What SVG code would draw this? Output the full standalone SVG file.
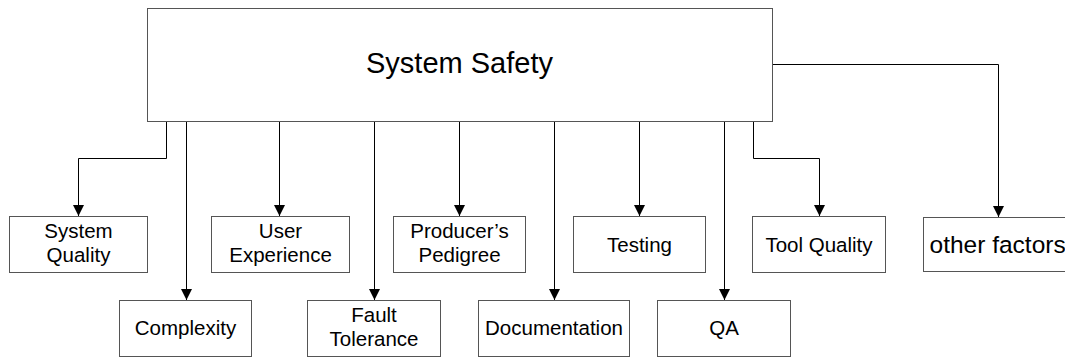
<svg xmlns="http://www.w3.org/2000/svg" width="1065" height="358" viewBox="0 0 1065 358">
<style>
.box{fill:#fff;stroke:#555;stroke-width:1}
.t{font-family:"Liberation Sans",Arial,sans-serif;font-size:20.5px;fill:#000;text-anchor:middle}
.c{fill:none;stroke:#000;stroke-width:1}
</style>
<defs>
<marker id="ah" markerUnits="userSpaceOnUse" markerWidth="11" markerHeight="11" viewBox="0 0 11 11" refX="11" refY="5.5" orient="auto">
<path d="M0,0 L11,5.5 L0,11 z" fill="#000"/>
</marker>
</defs>
<g id="connectors">
<path class="c" d="M166.5,121.5 V158.5 H78.5 V216" marker-end="url(#ah)"/>
<path class="c" d="M186.5,121.5 V300" marker-end="url(#ah)"/>
<path class="c" d="M279.5,121.5 V216" marker-end="url(#ah)"/>
<path class="c" d="M374.5,121.5 V300" marker-end="url(#ah)"/>
<path class="c" d="M459.5,121.5 V216" marker-end="url(#ah)"/>
<path class="c" d="M554.5,121.5 V300" marker-end="url(#ah)"/>
<path class="c" d="M639.5,121.5 V216" marker-end="url(#ah)"/>
<path class="c" d="M724.5,121.5 V300" marker-end="url(#ah)"/>
<path class="c" d="M753.5,121.5 V158.5 H819.5 V216" marker-end="url(#ah)"/>
<path class="c" d="M772.5,64.5 H998.5 V217" marker-end="url(#ah)"/>
</g>
<g id="system-safety">
<rect class="box" x="147.5" y="8.5" width="625" height="113"/>
<text class="t" x="459.5" y="73" style="font-size:29px">System Safety</text>
</g>
<g id="system-quality">
<rect class="box" x="9.5" y="216.5" width="138" height="56"/>
<text class="t" x="78.5" y="238">System</text>
<text class="t" x="78.5" y="262">Quality</text>
</g>
<g id="complexity">
<rect class="box" x="119.5" y="300.5" width="132" height="56"/>
<text class="t" x="185.5" y="335">Complexity</text>
</g>
<g id="user-experience">
<rect class="box" x="211.5" y="216.5" width="138" height="56"/>
<text class="t" x="280.5" y="238">User</text>
<text class="t" x="280.5" y="262">Experience</text>
</g>
<g id="fault-tolerance">
<rect class="box" x="307.5" y="300.5" width="133" height="56"/>
<text class="t" x="374" y="322">Fault</text>
<text class="t" x="374" y="346">Tolerance</text>
</g>
<g id="producers-pedigree">
<rect class="box" x="393.5" y="216.5" width="132" height="56"/>
<text class="t" x="459.5" y="238">Producer’s</text>
<text class="t" x="459.5" y="262">Pedigree</text>
</g>
<g id="documentation">
<rect class="box" x="478.5" y="300.5" width="151" height="56"/>
<text class="t" x="554" y="335">Documentation</text>
</g>
<g id="testing">
<rect class="box" x="573.5" y="216.5" width="132" height="56"/>
<text class="t" x="639.5" y="252">Testing</text>
</g>
<g id="qa">
<rect class="box" x="657.5" y="300.5" width="133" height="56"/>
<text class="t" x="724" y="335">QA</text>
</g>
<g id="tool-quality">
<rect class="box" x="752.5" y="216.5" width="133" height="56"/>
<text class="t" x="819" y="252">Tool Quality</text>
</g>
<g id="other-factors">
<rect class="box" x="923.5" y="217.5" width="152" height="54"/>
<text class="t" x="929.5" y="253" style="font-size:24.5px;text-anchor:start">other factors</text>
</g>
</svg>
